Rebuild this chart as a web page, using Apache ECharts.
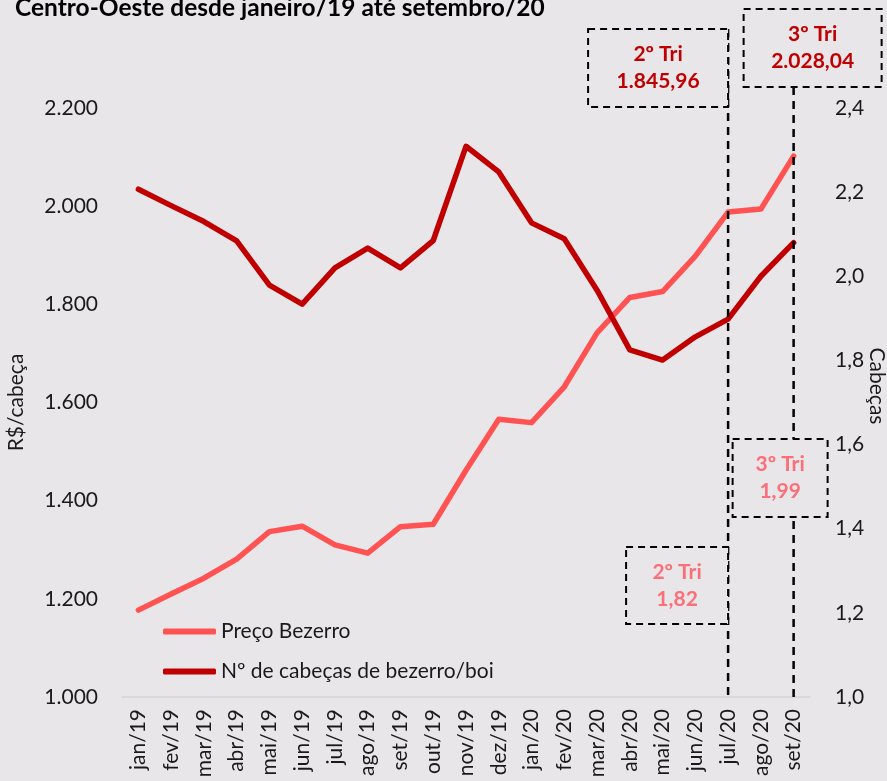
<!DOCTYPE html>
<html>
<head>
<meta charset="utf-8">
<script src="https://cdn.jsdelivr.net/npm/echarts@6/dist/echarts.min.js"></script>
<style>
html, body { margin: 0; padding: 0; background: #e8e6e9; }
#chart { width: 887px; height: 781px; }
</style>
</head>
<body>
<div id="chart"></div>
<script>
const meses = ['jan/19', 'fev/19', 'mar/19', 'abr/19', 'mai/19', 'jun/19', 'jul/19', 'ago/19', 'set/19', 'out/19', 'nov/19', 'dez/19',
  'jan/20', 'fev/20', 'mar/20', 'abr/20', 'mai/20', 'jun/20', 'jul/20', 'ago/20', 'set/20']
// R$/cabeça (eixo esquerdo)
const precoBezerro = [1177, 1210, 1242, 1281, 1337, 1348, 1310, 1293, 1347, 1352, 1462, 1566,
  1559, 1632, 1742, 1814, 1826, 1898, 1988, 1994, 2102]
// cabeças de bezerro por boi (eixo direito)
const cabecas = [2.207, 2.168, 2.130, 2.084, 1.979, 1.934, 2.020, 2.067, 2.020, 2.085, 2.309, 2.248,
  2.127, 2.089, 1.967, 1.825, 1.801, 1.856, 1.898, 2.000, 2.080]
const trimestres = [
  { rotulo: '2º Tri', mesFim: 'jul/20', preco: '1.845,96', cabecas: '1,82' },
  { rotulo: '3º Tri', mesFim: 'set/20', preco: '2.028,04', cabecas: '1,99' }
]

const fonte = 'Lato, "Open Sans", sans-serif'
const corTexto = '#1a1a1a'
const fundo = '#e8e6e9'

const myChart = echarts.init(document.getElementById('chart'))

myChart.setOption({
  backgroundColor: fundo,
  animation: false,
  textStyle: { fontFamily: fonte },
  title: {
    text: 'Centro-Oeste desde janeiro/19 até setembro/20',
    left: 10,
    top: -9,
    textStyle: { fontFamily: fonte, fontWeight: 'bold', fontSize: 24.5, color: '#000' }
  },
  legend: {
    data: ['Preço Bezerro', 'Nº de cabeças de bezerro/boi'],
    orient: 'vertical',
    left: 158,
    top: 616,
    itemGap: 19,
    itemWidth: 53,
    itemHeight: 6,
    icon: 'roundRect',
    textStyle: { fontFamily: fonte, fontSize: 21, color: corTexto }
  },
  grid: { left: 122, right: 77, top: 108, bottom: 84, outerBoundsMode: 'none', containLabel: false },
  xAxis: {
    type: 'category',
    data: meses,
    boundaryGap: true,
    axisLine: { show: true, lineStyle: { color: '#d6d4d7', width: 1.5 } },
    axisTick: { show: false },
    axisLabel: { rotate: 90, interval: 0, margin: 12, fontSize: 21, color: corTexto, fontFamily: fonte }
  },
  yAxis: [
    {
      type: 'value',
      min: 1000,
      max: 2200,
      interval: 200,
      name: 'R$/cabeça',
      nameLocation: 'middle',
      nameGap: 95,
      nameTextStyle: { fontSize: 21, color: corTexto, fontFamily: fonte },
      splitLine: { show: false },
      axisLine: { show: false },
      axisTick: { show: false },
      axisLabel: {
        margin: 24,
        fontSize: 21,
        color: corTexto,
        fontFamily: fonte,
        formatter: function(v) {
          return String(Math.round(v)).replace(/\B(?=(\d{3})+(?!\d))/g, '.')
        }
      }
    },
    {
      type: 'value',
      position: 'right',
      min: 1,
      max: 2.4,
      interval: 0.2,
      splitLine: { show: false },
      axisLine: { show: false },
      axisTick: { show: false },
      axisLabel: {
        margin: 25,
        fontSize: 21,
        color: corTexto,
        fontFamily: fonte,
        formatter: function(v) {
          return v.toFixed(1).replace('.', ',')
        }
      }
    }
  ],
  series: [
    {
      name: 'Preço Bezerro',
      type: 'line',
      yAxisIndex: 0,
      data: precoBezerro,
      symbol: 'none',
      color: '#ff5353',
      lineStyle: { width: 5.5, cap: 'round', join: 'round' }
    },
    {
      name: 'Nº de cabeças de bezerro/boi',
      type: 'line',
      yAxisIndex: 1,
      data: cabecas,
      symbol: 'none',
      color: '#c00000',
      lineStyle: { width: 5.5, cap: 'round', join: 'round' }
    }
  ]
})

// caixas tracejadas e linhas verticais dos trimestres
const xJul = myChart.convertToPixel({ xAxisIndex: 0 }, trimestres[0].mesFim)
const xSet = myChart.convertToPixel({ xAxisIndex: 0 }, trimestres[1].mesFim)
const yBase = myChart.convertToPixel({ yAxisIndex: 0 }, 1000)

const tracoLinha = { stroke: '#000', lineWidth: 2.5, lineDash: [8, 6] }
const tracoCaixa = { stroke: '#000', lineWidth: 2, lineDash: [7, 5], fill: fundo }

function caixa(x, y, w, h, texto, cor) {
  return [
    { type: 'rect', z: 20, shape: { x: x, y: y, width: w, height: h }, style: tracoCaixa },
    {
      type: 'text', z: 21, x: x + w / 2, y: y + h / 2,
      style: {
        text: texto, align: 'center', verticalAlign: 'middle', lineHeight: 27,
        font: 'bold 21px ' + fonte, fill: cor
      }
    }
  ]
}

myChart.setOption({
  graphic: [
    { type: 'line', z: 15, shape: { x1: xJul, y1: 29, x2: xJul, y2: yBase }, style: tracoLinha },
    { type: 'line', z: 15, shape: { x1: xSet, y1: 87, x2: xSet, y2: yBase }, style: tracoLinha },
    // nome do eixo direito
    {
      type: 'text', x: 877, y: 386, rotation: -Math.PI / 2,
      style: { text: 'Cabeças', align: 'center', verticalAlign: 'middle', font: '21px ' + fonte, fill: corTexto }
    }
  ]
    .concat(caixa(xJul - 140, 29, 140, 78, trimestres[0].rotulo + '\n' + trimestres[0].preco, '#c00000'))
    .concat(caixa(xSet - 50, 9, 138, 78, trimestres[1].rotulo + '\n' + trimestres[1].preco, '#c00000'))
    .concat(caixa(xSet - 61, 439, 95, 78, trimestres[1].rotulo + '\n' + trimestres[1].cabecas, '#fb6f78'))
    .concat(caixa(xJul - 102, 547, 102, 77, trimestres[0].rotulo + '\n' + trimestres[0].cabecas, '#fb6f78'))
})
</script>
</body>
</html>
